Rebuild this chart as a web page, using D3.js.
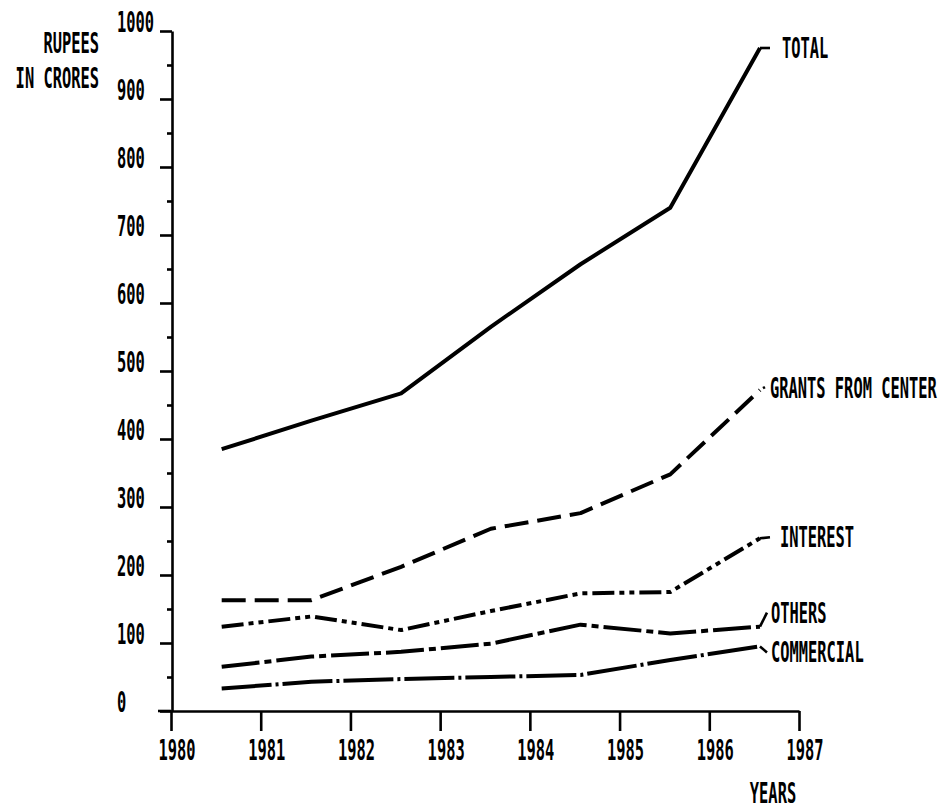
<!DOCTYPE html>
<html>
<head>
<meta charset="utf-8">
<script src="https://cdn.jsdelivr.net/npm/d3@7"></script>
<style>
  html, body { margin: 0; padding: 0; background: #fff; }
  svg { display: block; }
  text { font-family: "DejaVu Sans Mono", "Liberation Mono", monospace; font-weight: bold; font-size: 28px; fill: #000; }
</style>
</head>
<body>
<svg id="chart" width="951" height="812"></svg>
<script>
// ---- data ----
const years = [1980, 1981, 1982, 1983, 1984, 1985, 1986];
const total      = [385, 427, 467, 565, 657, 740, 975];
const grants     = [163, 163, 212, 268, 291, 348, 472];
const interest   = [124, 139, 119, 147, 173, 175, 254];
const others     = [65, 80, 87, 99, 127, 114, 124];
const commercial = [33, 43, 47, 50, 53, 75, 95];
const seriesNames = ["TOTAL", "GRANTS FROM CENTER", "INTEREST", "OTHERS", "COMMERCIAL"];
const yTickValues = [0, 100, 200, 300, 400, 500, 600, 700, 800, 900, 1000];
const yMinorTicks = [50, 150, 250, 350, 450, 550, 650, 750, 850, 950];
const xTickValues = [1980, 1981, 1982, 1983, 1984, 1985, 1986, 1987];
const yTitle = ["RUPEES", "IN CRORES"];
const xTitle = "YEARS";

// ---- layout ----
const svg = d3.select("#chart");
const x = d3.scaleLinear().domain([1980, 1987]).range([171, 799]);
const y = d3.scaleLinear().domain([0, 1000]).range([711, 31]);
const midYear = 0.565;          // values are plotted mid-year
const SX_TXT = 0.55;            // condensed plotter-like lettering

function label(str, px, py, anchor) {
  svg.append("text")
    .attr("transform", `translate(${px},${py}) scale(${SX_TXT},1)`)
    .attr("text-anchor", anchor || "start")
    .text(str);
}

// ---- axes ----
const axisStroke = 2.6;
const yAxis = svg.append("g").attr("transform", `translate(${x(1980) + 1},0)`)
  .call(d3.axisLeft(y).tickValues(yTickValues).tickSize(12).tickSizeOuter(0).tickFormat(""));
const yMinor = svg.append("g").attr("transform", `translate(${x(1980) + 1},0)`)
  .call(d3.axisLeft(y).tickValues(yMinorTicks).tickSize(5).tickFormat(""));
yMinor.select(".domain").remove();

const xAxis = svg.append("g").attr("transform", `translate(0,${y(0)})`)
  .call(d3.axisBottom(x).tickValues(xTickValues).tickSize(20).tickSizeOuter(0).tickFormat(""));
// short extension of the baseline to the left of the vertical axis
svg.append("line").attr("x1", x(1980) - 13).attr("x2", x(1980))
  .attr("y1", y(0)).attr("y2", y(0));

svg.selectAll(".domain, .tick line, line")
  .attr("stroke", "#000").attr("stroke-width", axisStroke);

// tick labels
yTickValues.forEach(v => label(String(v), 117, y(v) + 1, "start"));
xTickValues.forEach(v => label(String(v), x(v) + 6, 760, "middle"));
label(yTitle[0], 99, 53, "end");
label(yTitle[1], 99, 88, "end");
label(xTitle, 773, 803, "middle");

// ---- series ----
const seriesData = [total, grants, interest, others, commercial];
const dashes = [null, "24,9", "22,5,5,5,5,5", "38,5,7,5", "50,4,3,4"];
const line = d3.line().x((d, i) => x(years[i] + midYear)).y(d => y(d));

seriesData.forEach((vals, k) => {
  svg.append("path")
    .attr("d", line(vals))
    .attr("fill", "none")
    .attr("stroke", "#000")
    .attr("stroke-width", 4)
    .attr("stroke-linejoin", "round")
    .attr("stroke-dasharray", dashes[k]);
});

// ---- end labels with connectors ----
const lastX = x(years[years.length - 1] + midYear);
function endY(vals) { return y(vals[vals.length - 1]); }
const conn = [
  // [dx1, dy1, dx2, dy2, labelX, labelBaselineOffset]
  [0, 0, 10, 0, 782, 10],
  [3, -2, 5, -3, 770, 8],
  [0, 0, 10, -1, 780, 9],
  [0, 0, 7, -14, 771, -4],
  [0, 0, 7, 6, 771, 16]
];
seriesData.forEach((vals, k) => {
  const ey = endY(vals);
  const c = conn[k];
  svg.append("line")
    .attr("x1", lastX + c[0]).attr("y1", ey + c[1])
    .attr("x2", lastX + c[2]).attr("y2", ey + c[3])
    .attr("stroke", "#000").attr("stroke-width", 2.6);
  label(seriesNames[k], c[4], ey + c[5], "start");
});
</script>
</body>
</html>
